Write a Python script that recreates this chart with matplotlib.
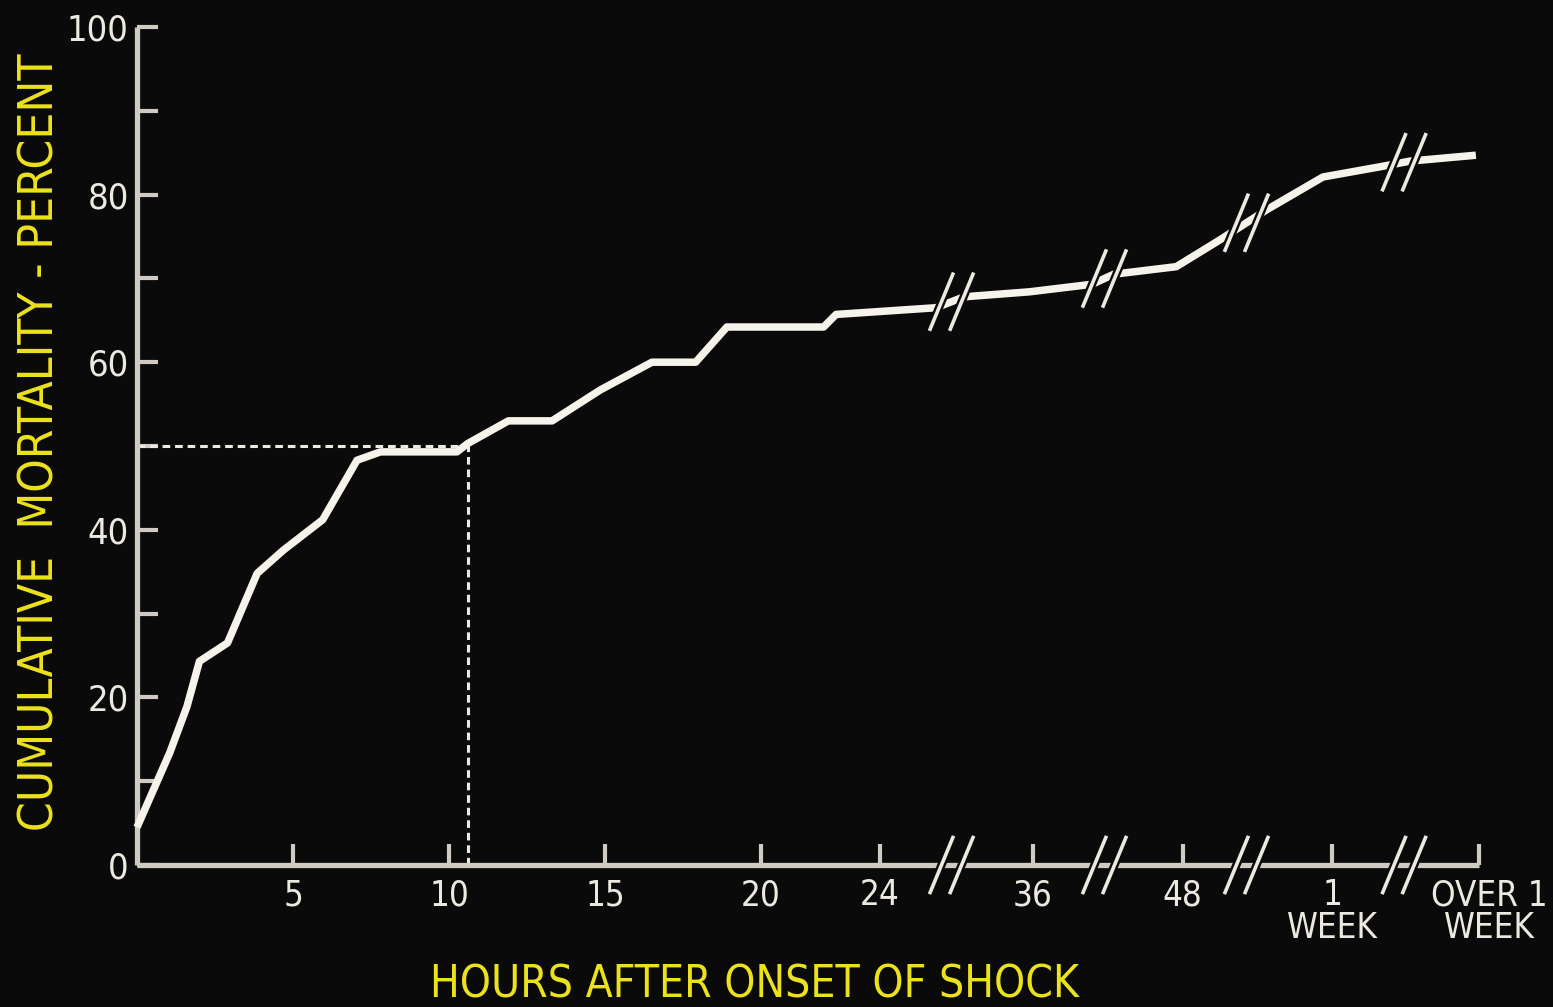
import matplotlib
matplotlib.use("Agg")
import matplotlib.pyplot as plt
import matplotlib.patheffects as pe
from matplotlib import font_manager, transforms
from matplotlib.font_manager import FontProperties
from matplotlib.path import Path
import numpy as np

# positions on the drawn axis: hours up to 24, then one slot per later category
curve_x = [0, 1.05, 1.6, 2.0, 2.9, 3.85, 4.7, 5.95, 7.05, 7.8, 10.25, 10.6,
           11.9, 13.3, 14.85, 16.5, 17.9, 18.9, 22.0, 22.4, 25.6,
           26.5, 28.6, 30.6, 31.3, 33.3, 34.7, 36.2, 38.0, 39.8, 40.8, 42.9]
curve_y = [4.5, 13.4, 18.9, 24.3, 26.5, 34.8, 37.6, 41.2, 48.3, 49.3, 49.3, 50.3,
           53.0, 53.0, 56.7, 60.0, 60.0, 64.2, 64.2, 65.7, 66.5,
           67.8, 68.4, 69.3, 70.5, 71.4, 74.6, 78.2, 82.1, 83.3, 84.0, 84.7]

x_ticks = [5, 10, 15, 20, 23.8, 28.7, 33.5, 38.3, 43.0]
x_labels = ["5", "10", "15", "20", "24", "36", "48", "1\nWEEK", "OVER 1\nWEEK"]
breaks = [26.1, 31.0, 35.55, 40.6]

y_ticks = list(range(0, 101, 10))
y_labels = ["0", "", "20", "", "40", "", "60", "", "80", "", "100"]

median_x = 10.6   # time at which half had died
median_y = 50

bg = "#0a0a0a"
fg = "#ece9e0"
axis_col = "#cfcbc2"
yellow = "#ece21c"


def pick_font():
    # look for a narrow sans face, the lettering on the slide is condensed
    entries = font_manager.fontManager.ttflist
    for e in entries:
        if e.name == "Liberation Sans Narrow" and e.style == "normal" and e.weight in (400, "normal"):
            return e.fname
    cond = [e for e in entries
            if str(e.stretch) in ("condensed", "semi-condensed", "extra-condensed")
            and e.style == "normal" and e.weight in (400, 500, "normal", "medium")]
    cond.sort(key=lambda e: ("Sans" not in e.name, str(e.stretch) != "condensed", e.name))
    if cond:
        return cond[0].fname
    return None


fname = pick_font()
if fname:
    font = FontProperties(fname=fname)
else:
    font = FontProperties(family=["Roboto", "DejaVu Sans"])

fig = plt.figure(figsize=(15.53, 10.07), dpi=100, facecolor=bg)
ax = fig.add_axes([137 / 1553, 142 / 1007, 1342 / 1553, 838 / 1007])
ax.set_facecolor(bg)

ax.set_xlim(0, 43)
ax.set_ylim(0, 100)

for side in ["top", "right"]:
    ax.spines[side].set_visible(False)
for side in ["left", "bottom"]:
    ax.spines[side].set_color(axis_col)
    ax.spines[side].set_linewidth(3.8)
    ax.spines[side].set_capstyle("butt")

ax.set_yticks(y_ticks)
ax.set_yticklabels(y_labels)
ax.set_xticks(x_ticks)
ax.set_xticklabels([])
ax.tick_params(axis="both", direction="in", length=15, width=3, color=axis_col)
ax.tick_params(axis="y", pad=6, labelcolor=fg)
for lbl in ax.get_yticklabels():
    lbl.set_fontproperties(font)
    lbl.set_fontsize(26)

# x tick labels drawn under each tick
xt = ax.get_xaxis_transform()
for i, (pos, lab) in enumerate(zip(x_ticks, x_labels)):
    tr = xt
    if i == len(x_ticks) - 1:
        tr = transforms.offset_copy(xt, fig=fig, x=10, y=0, units="dots")
    t = ax.text(pos, -0.016, lab, transform=tr, ha="center", va="top",
                color=fg, fontproperties=font, linespacing=0.95,
                multialignment="center")
    t.set_fontsize(25)

# dashed guide lines for 50 percent
ax.plot([0, median_x], [median_y, median_y], color=fg, lw=2.2,
        linestyle=(0, (2.5, 1.6)), zorder=2)
ax.plot([median_x, median_x], [0, median_y], color=fg, lw=2.2,
        linestyle=(0, (2.5, 1.6)), zorder=2)

# the curve
ax.plot(curve_x, curve_y, color="#f6f3ea", lw=5.4, solid_joinstyle="round",
        solid_capstyle="butt", zorder=3, clip_on=False)

# break marks: two slanted strokes
slash = Path([(-22, -29), (2, 29), (-2, -29), (22, 29)],
             [Path.MOVETO, Path.LINETO, Path.MOVETO, Path.LINETO])
outline = [pe.withStroke(linewidth=6, foreground=bg)]
curve_at_breaks = np.interp(breaks, curve_x, curve_y)
ax.plot(breaks, [0] * len(breaks), linestyle="none", marker=slash, markersize=42,
        markeredgewidth=2.6, markeredgecolor=fg, markerfacecolor="none",
        path_effects=outline, clip_on=False, zorder=4)
ax.plot(breaks, curve_at_breaks, linestyle="none", marker=slash, markersize=42,
        markeredgewidth=2.6, markeredgecolor=fg, markerfacecolor="none",
        path_effects=outline, clip_on=False, zorder=4)

xlab = fig.text(755 / 1553, 0.022, "HOURS AFTER ONSET OF SHOCK", ha="center", va="center",
                color=yellow, fontproperties=font)
ylab = fig.text(40 / 1553, 0.561, "CUMULATIVE  MORTALITY - PERCENT", ha="center", va="center",
                rotation=90, color=yellow, fontproperties=font)

# size the two titles so they span the same length as on the slide
renderer = fig.canvas.get_renderer()
for t, target, horiz in [(xlab, 648, True), (ylab, 775, False)]:
    t.set_fontsize(30)
    bb = t.get_window_extent(renderer)
    length = bb.width if horiz else bb.height
    t.set_fontsize(min(44, 30 * target / length))

fig.savefig("out.png", dpi=100, facecolor=bg)
